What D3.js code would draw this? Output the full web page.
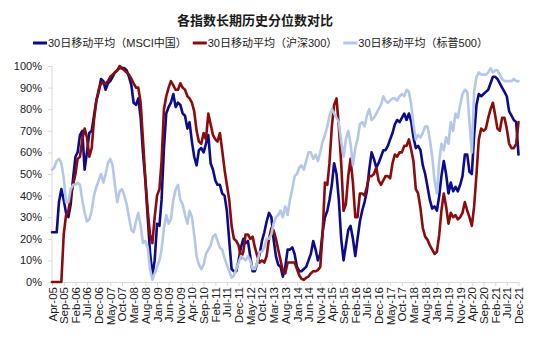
<!DOCTYPE html>
<html><head><meta charset="utf-8">
<script src="https://cdn.jsdelivr.net/npm/d3@7"></script>
<style>
body{margin:0;background:#fff;}
svg{display:block;}
text{font-family:"Liberation Sans",Arial,"Noto Sans CJK SC",sans-serif;fill:#1a1a1a;}
</style></head>
<body>
<svg id="chart" width="556" height="338"></svg>
<script>
const title = "各指数长期历史分位数对比";
const seriesNames = ["30日移动平均（MSCI中国）", "30日移动平均（沪深300）", "30日移动平均（标普500）"];
const seriesColors = ["#0c0c8a", "#8a0c0c", "#b4c7e7"];
const startMonth = new Date(2005, 3, 1);
const monthCount = 201;

const xTickLabels = ["Apr-05","Sep-05","Feb-06","Jul-06","Dec-06","May-07","Oct-07","Mar-08","Aug-08","Jan-09",
  "Jun-09","Nov-09","Apr-10","Sep-10","Feb-11","Jul-11","Dec-11","May-12","Oct-12","Mar-13","Aug-13","Jan-14",
  "Jun-14","Nov-14","Apr-15","Sep-15","Feb-16","Jul-16","Dec-16","May-17","Oct-17","Mar-18","Aug-18","Jan-19",
  "Jun-19","Nov-19","Apr-20","Sep-20","Feb-21","Jul-21","Dec-21"];
const yTicks = [0,10,20,30,40,50,60,70,80,90,100];

const msci = [23,23,23,37,43,38,32,30,36,48,58,60,68,70,52,60,69,70,77,84,
  88,94,93,89,92,93,95,97,98,99,99,99,98,95,91,83,82,85,76,60,
  47,30,14,3,10,27,26,38,62,78,81,83,87,81,83,82,78,77,71,74,
  65,58,54,61,62,60,64,68,55,52,47,45,45,41,40,33,19,6,5,5,
  10,16,20,18,19,12,5,5,9,13,19,23,28,32,30,20,12,8,7,2.5,
  7,15,15,16,13,7,5,5,6,7,10,13,19,15,10,13,23,30,33,38,
  45,55,50,38,20,10,17,24,26,20,12,20,28,33,37,42,52,60,57,53,
  55,58,61,61,63,66,69,73,75,74,76,78,75,78,74,67,62,63,61,54,
  50,44,38,34,35,33,40,49,56,50,41,46,42,44,42,45,49,59,59,51,
  50,68,82,87,86,87,88,89,92,95,95,94,92,90,88,86,79,77,75,74,
  59];
const csi300 = [0,0,0,0,0,22,31,33,40,45,50,57,58,66,71,67,58,62,75,84,
  89,92,92,92,93,95,96,97,98,100,99,98,97,96,94,92,90,90,83,66,
  48,33,22,18,30,40,43,56,80,86,90,93,91,89,89,92,90,89,86,85,
  83,79,70,65,64,69,66,78,73,68,66,65,69,61,52,45,38,26,20,19,
  17,11,14,22,22,20,21,16,12,9,10,9,12,20,25,24,20,15,10,5,
  4,9,9,9,9,6,3,1.5,1,2,2.5,4,5,5,5.5,7,22,46,45,55,
  72,82,85,72,55,33,36,49,57,46,30,30,41,41,40,44,49,49,50,53,
  47,45,47,49,49,48,55,59,58,60,60,63,63,66,61,56,43,41,34,25,
  21,19.5,17,15,13,14,22,33,41,35,27,32,30,31,29,30,32,37,33,30,
  26,35,50,66,71,70,71,76,80,83,77,71,70,76,76,71,64,62,62,64,
  74];
const sp500 = [52,53,56,57,55,48,37,37,43,45,45,46,45,38,32,28,29,33,40,44,
  47,50,46,50,55,57,54,45,37,42,43,40,36,30,24,23,28,32,26,18,
  19,16,6,1,4,7,10,15,25,31,27,29,38,43,45,38,36,31,27,33,
  30,22,12,8,6,8,13,15,17,21,22,19,16,15,11,8,5,2,3,6,
  9,12,11,10,12,10,6,6,9,14,14,16,20,20,22,27,30,31,33,30,
  35,31,38,43,49,50,53,54,52,56,60,60,57,59,56,60,65,68,72,77,
  80,78,76,74,65,58,66,70,64,54,62,66,73,74,72,77,80,75,76,78,
  80,82,86,84,83,84,85,85,84,86,87,86,89,88,82,73,66,68,67,69,
  72,72,66,58,47,41,56,64,61,67,64,74,70,78,76,82,87,89,88,74,
  60,88,95,97,96,96,96,97,99,97,98,98,96,94,93,93,93,93,94,93,
  93];

const seriesData = [msci, csi300, sp500];
const months = d3.range(monthCount).map(i => d3.timeMonth.offset(startMonth, i));

const svg = d3.select("#chart");
const margin = {left: 52, right: 37.5, top: 66, bottom: 56};
const W = 556, H = 338;

const x = d3.scaleTime().domain([months[0], months[monthCount-1]]).range([margin.left, W - margin.right]);
const y = d3.scaleLinear().domain([0, 100]).range([H - margin.bottom, margin.top]);

// title
svg.append("text").attr("x", 255).attr("y", 25).attr("text-anchor", "middle")
  .style("font-family", "'Noto Sans CJK SC',sans-serif").style("font-size", "13px").style("font-weight", "bold")
  .style("fill", "#1a1a1a").text(title);

// legend
const legend = svg.append("g");
let lx = 0;
seriesNames.forEach((name, i) => {
  const g = legend.append("g");
  g.append("line").attr("x1", 0).attr("x2", 14).attr("y1", 0).attr("y2", 0)
    .attr("stroke", seriesColors[i]).attr("stroke-width", 3);
  const t = g.append("text").attr("x", 15).attr("y", 4).style("font-size", "11px")
    .style("font-family", "'Liberation Sans',Arial,'Noto Sans CJK SC',sans-serif").text(name);
  const w = 15 + t.node().getComputedTextLength();
  g.attr("transform", `translate(${lx},0)`);
  lx += w + 6;
});
legend.attr("transform", `translate(33,43)`);

// y axis
const yAxis = d3.axisLeft(y).tickValues(yTicks).tickFormat(d => d + "%").tickSize(4).tickPadding(6);
const gy = svg.append("g").attr("transform", `translate(${margin.left},0)`).call(yAxis);
gy.selectAll("path,line").attr("stroke", "#d9d9d9");
gy.select(".domain").attr("d", `M0,${y(100)}V${y(0)}`);
gy.selectAll("text").style("font-size", "11px").style("font-family", "'Liberation Sans',Arial,sans-serif").style("fill", "#1a1a1a");

// x axis
const tickDates = xTickLabels.map((_, i) => months[i * 5]);
const xAxis = d3.axisBottom(x).tickValues(tickDates).tickFormat((d, i) => xTickLabels[i]).tickSize(4).tickSizeOuter(0);
const gx = svg.append("g").attr("transform", `translate(0,${y(0)})`).call(xAxis);
gx.selectAll("path,line").attr("stroke", "#d9d9d9");
gx.selectAll("text").style("font-size", "11.5px").style("font-family", "'Liberation Sans',Arial,sans-serif").style("fill", "#1a1a1a")
  .attr("text-anchor", "end").attr("transform", "rotate(-90)").attr("x", -5).attr("y", 0).attr("dy", "0.35em");

// lines
const line = d3.line().x((d, i) => x(months[i])).y(d => y(d)).curve(d3.curveLinear);
seriesData.forEach((vals, i) => {
  svg.append("path").datum(vals).attr("fill", "none").attr("stroke", seriesColors[i])
    .attr("stroke-width", 2.6).attr("stroke-linejoin", "round").attr("stroke-linecap", "round").attr("d", line);
});
</script>
</body></html>
